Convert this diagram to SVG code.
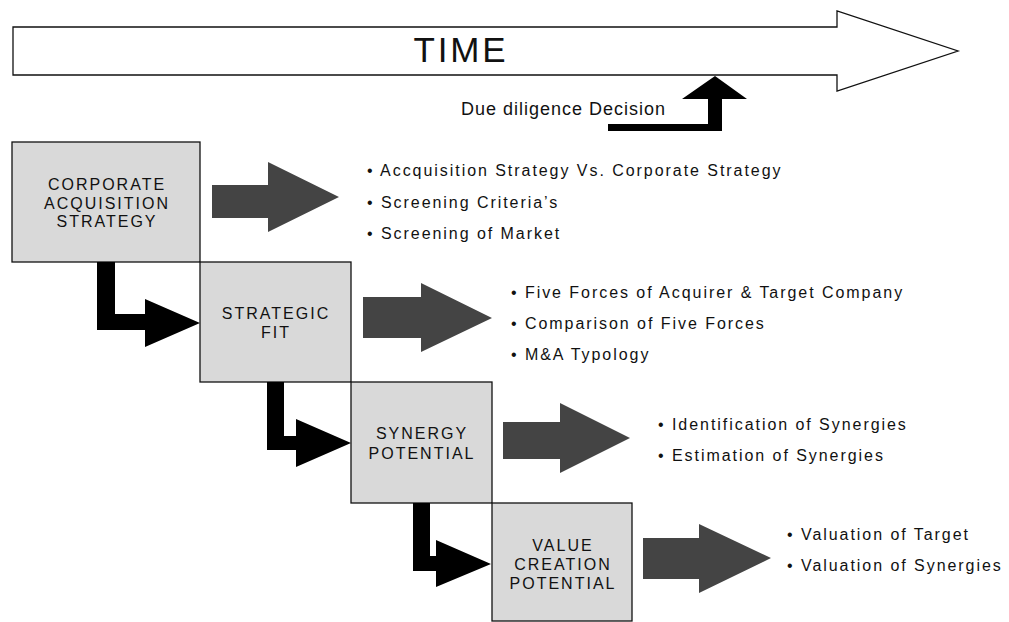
<svg xmlns="http://www.w3.org/2000/svg" width="1009" height="622" viewBox="0 0 1009 622">
<style>
  .box { fill: #d9d9d9; stroke: #111; stroke-width: 1.3; }
  .lbl { font-family: "Liberation Sans", Arial, sans-serif; font-size: 16px; letter-spacing: 2px; fill: #111; text-anchor: middle; }
  .item { font-family: "Liberation Sans", Arial, sans-serif; font-size: 16px; letter-spacing: 1.95px; fill: #111; }
  .gray { fill: #444444; }
  .blk { fill: #000; }
</style>
<rect width="1009" height="622" fill="#fff"/>

<g id="time-arrow">
  <path d="M13,27 H837 V11 L958,51 L837,91 V75 H13 Z" fill="#fff" stroke="#111" stroke-width="1.3"/>
  <text x="461" y="62" font-family="Liberation Sans, Arial, sans-serif" font-size="35" letter-spacing="2.8" text-anchor="middle" fill="#111">TIME</text>
</g>

<g id="due-diligence">
  <text x="461" y="115" font-family="Liberation Sans, Arial, sans-serif" font-size="18" letter-spacing="1" fill="#111">Due diligence Decision</text>
</g>

<g id="node-corporate">
  <rect class="box" x="12" y="142" width="188" height="120"/>
  <text class="lbl" x="107" y="190">CORPORATE</text>
  <text class="lbl" x="107" y="209">ACQUISITION</text>
  <text class="lbl" x="107" y="227">STRATEGY</text>
</g>

<g id="node-strategic">
  <rect class="box" x="200" y="262" width="151" height="120"/>
  <text class="lbl" x="276" y="319">STRATEGIC</text>
  <text class="lbl" x="276" y="338">FIT</text>
</g>

<g id="node-synergy">
  <rect class="box" x="351" y="382" width="141" height="121"/>
  <text class="lbl" x="422" y="439">SYNERGY</text>
  <text class="lbl" x="422" y="459">POTENTIAL</text>
</g>

<g id="node-value">
  <rect class="box" x="492" y="503" width="140" height="118"/>
  <text class="lbl" x="563" y="551">VALUE</text>
  <text class="lbl" x="563" y="570">CREATION</text>
  <text class="lbl" x="563" y="589">POTENTIAL</text>
</g>

<g id="connectors">
  <path class="blk" d="M608,124 H708 V99 H682 L715,76 L747,99 H722 V131 H608 Z"/>
  <path class="blk" d="M97,262 H115 V314 H145 V299 L200,323 L145,347 V330 H97 Z"/>
  <path class="blk" d="M267,382 H284 V436 H296 V419 L351,443 L296,467 V450 H267 Z"/>
  <path class="blk" d="M413,503 H430 V556 H436 V540 L491,564 L436,587 V571 H413 Z"/>
  <path class="gray" d="M212,185 H268 V162 L339,197 L268,232 V218 H212 Z"/>
  <path class="gray" d="M363,297 H421 V283 L492,318 L421,352 V338 H363 Z"/>
  <path class="gray" d="M503,422 H560 V403 L630,438 L560,473 V459 H503 Z"/>
  <path class="gray" d="M643,538 H699 V524 L771,558 L699,593 V579 H643 Z"/>
</g>

<g id="list-corporate">
  <text class="item" x="367" y="176">• Accquisition Strategy Vs. Corporate Strategy</text>
  <text class="item" x="367" y="208">• Screening Criteria’s</text>
  <text class="item" x="367" y="239">• Screening of Market</text>
</g>

<g id="list-strategic">
  <text class="item" x="511" y="298">• Five Forces of Acquirer &amp; Target Company</text>
  <text class="item" x="511" y="329">• Comparison of Five Forces</text>
  <text class="item" x="511" y="360">• M&amp;A Typology</text>
</g>

<g id="list-synergy">
  <text class="item" x="658" y="430">• Identification of Synergies</text>
  <text class="item" x="658" y="461">• Estimation of Synergies</text>
</g>

<g id="list-value">
  <text class="item" x="787" y="540">• Valuation of Target</text>
  <text class="item" x="787" y="571">• Valuation of Synergies</text>
</g>
</svg>
